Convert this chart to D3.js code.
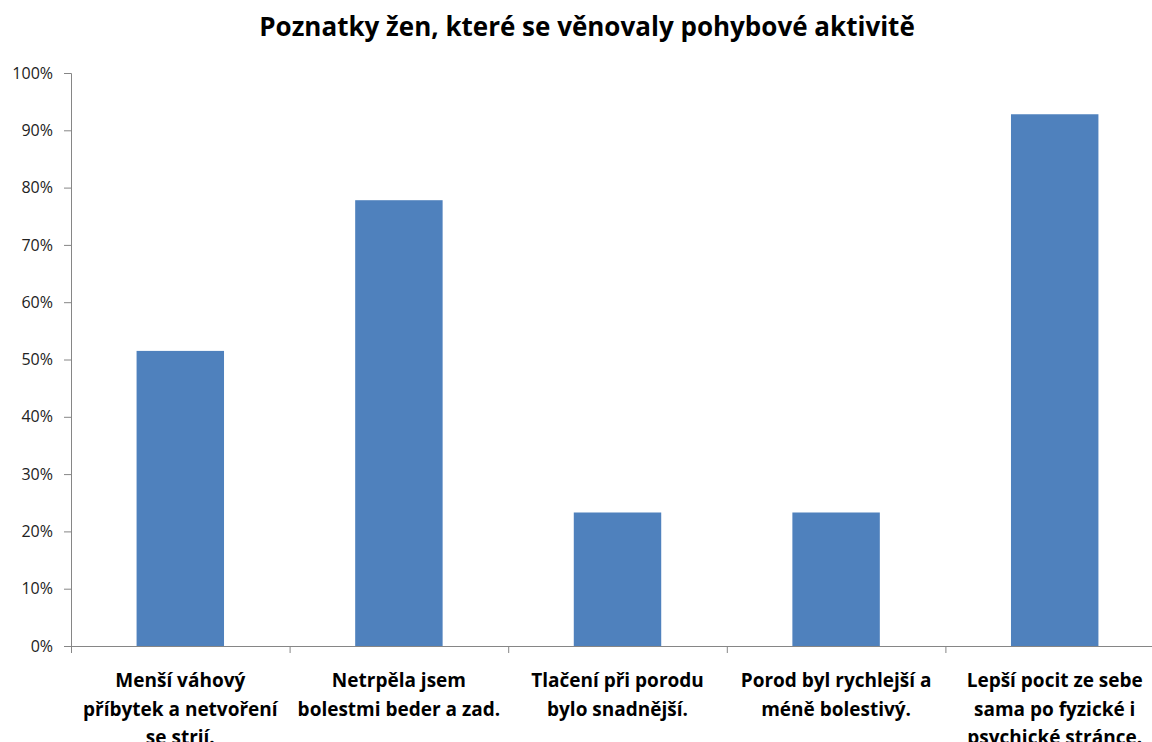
<!DOCTYPE html>
<html>
<head>
<meta charset="utf-8">
<script src="https://cdn.jsdelivr.net/npm/d3@7"></script>
<style>
  html, body { margin: 0; padding: 0; background: #fff; }
  svg { display: block; font-family: "Open Sans", sans-serif; }
</style>
</head>
<body>
<script>
// chart data
var title = "Poznatky žen, které se věnovaly pohybové aktivitě";
var categories = [
  "Menší váhový\npříbytek a netvoření\nse strií.",
  "Netrpěla jsem\nbolestmi beder a zad.",
  "Tlačení při porodu\nbylo snadnější.",
  "Porod byl rychlejší a\nméně bolestivý.",
  "Lepší pocit ze sebe\nsama po fyzické i\npsychické stránce."
];
var values = [0.515, 0.778, 0.233, 0.233, 0.928];
var yTicks = [0, 0.1, 0.2, 0.3, 0.4, 0.5, 0.6, 0.7, 0.8, 0.9, 1.0];

var width = 1152, height = 742;
var marginLeft = 71, marginTop = 73, plotH = 573, plotW = 1093;

var svg = d3.select("body").append("svg")
    .attr("width", width)
    .attr("height", height);

// title
svg.append("text")
    .attr("x", 587)
    .attr("y", 36)
    .attr("text-anchor", "middle")
    .attr("font-size", 26)
    .attr("font-weight", "bold")
    .attr("fill", "#000")
    .text(title);

var x = d3.scaleBand()
    .domain(d3.range(categories.length))
    .range([marginLeft, marginLeft + plotW])
    .paddingInner(0.6)
    .paddingOuter(0.3);

var y = d3.scaleLinear()
    .domain([0, 1])
    .range([marginTop + plotH, marginTop]);

//bars
svg.selectAll(".bar")
    .data(values)
    .enter().append("rect")
    .attr("class", "bar")
    .attr("x", function(d, i) { return x(i); })
    .attr("y", function(d) { return y(d); })
    .attr("width", x.bandwidth())
    .attr("height", function(d) { return y(0) - y(d); })
    .attr("fill", "#4f81bd");

// y axis
var yAxis = svg.append("g")
    .attr("transform", "translate(" + marginLeft + ",0)")
    .call(d3.axisLeft(y)
        .tickValues(yTicks)
        .tickFormat(d3.format(".0%"))
        .tickSize(7)
        .tickPadding(11));
yAxis.select(".domain").attr("stroke", "#868686");
yAxis.selectAll(".tick line").attr("stroke", "#868686");
yAxis.selectAll(".tick text")
    .attr("font-size", 16)
    .attr("fill", "#222")
    .attr("font-family", "'Open Sans', sans-serif");

// x axis line and category separators
var step = x.step();
svg.append("line")
    .attr("x1", marginLeft).attr("x2", marginLeft + plotW)
    .attr("y1", y(0) + 0.5).attr("y2", y(0) + 0.5)
    .attr("stroke", "#868686");
svg.selectAll(".xtick")
    .data(d3.range(categories.length + 1))
    .enter().append("line")
    .attr("class", "xtick")
    .attr("x1", function(d) { return marginLeft + d * step + 0.5; })
    .attr("x2", function(d) { return marginLeft + d * step + 0.5; })
    .attr("y1", y(0))
    .attr("y2", y(0) + 7)
    .attr("stroke", "#868686");

// category labels
var lab = svg.selectAll(".xlab")
    .data(categories)
    .enter().append("text")
    .attr("class", "xlab")
    .attr("text-anchor", "middle")
    .attr("font-size", 19)
    .attr("font-weight", "bold")
    .attr("fill", "#000")
    .attr("transform", function(d, i) {
        return "translate(" + (x(i) + x.bandwidth() / 2) + "," + (y(0) + 41) + ")";
    });
lab.selectAll("tspan")
    .data(function(d) { return d.split("\n"); })
    .enter().append("tspan")
    .attr("x", 0)
    .attr("dy", function(d, i) { return i ? 28.5 : 0; })
    .text(function(d) { return d; });
</script>
</body>
</html>
